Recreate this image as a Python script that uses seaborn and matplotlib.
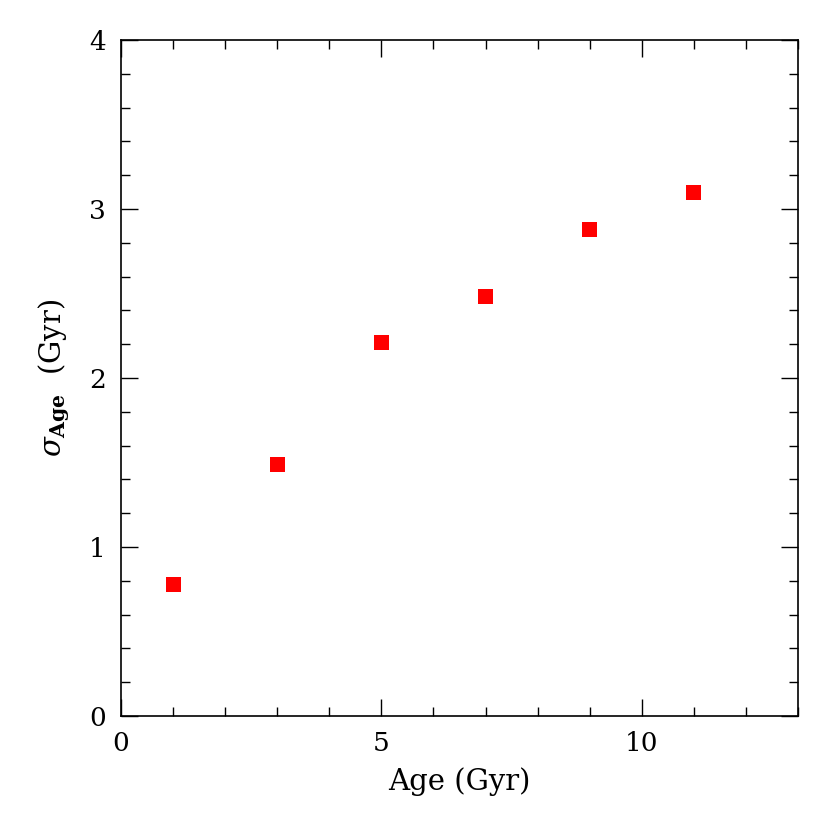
import numpy as np
import pandas as pd
import matplotlib
matplotlib.use("Agg")
import matplotlib.pyplot as plt
import seaborn as sns
from matplotlib.ticker import MultipleLocator

# Age bins and the scatter of ages within each bin
age_gyr = [1, 3, 5, 7, 9, 11]
sigma_age = [0.78, 1.49, 2.21, 2.48, 2.88, 3.10]

df = pd.DataFrame({"age": age_gyr, "sigma": sigma_age})

sns.set_style("ticks")
plt.rcParams['font.family'] = ['DejaVu Serif', 'DejaVu Sans']
plt.rcParams['mathtext.fontset'] = 'dejavuserif'
plt.rcParams['text.color'] = 'black'
plt.rcParams['axes.labelcolor'] = 'black'

fig = plt.figure(figsize=(8.3, 8.35), dpi=100)
ax = fig.add_axes([0.1458, 0.1425, 0.8156, 0.8095])

sns.scatterplot(data=df, x="age", y="sigma", marker="s", s=115,
                color="#ff0000", edgecolor="none", linewidth=0, ax=ax)

ax.set_xlim(0, 13)
ax.set_ylim(0, 4)
ax.xaxis.set_major_locator(MultipleLocator(5))
ax.xaxis.set_minor_locator(MultipleLocator(1))
ax.yaxis.set_major_locator(MultipleLocator(1))
ax.yaxis.set_minor_locator(MultipleLocator(0.2))

ax.tick_params(which="both", direction="in", top=True, right=True,
               width=1.0, colors="black", labelsize=19, pad=11)
ax.tick_params(which="major", length=12)
ax.tick_params(which="minor", length=6.5)
for sp in ax.spines.values():
    sp.set_linewidth(1.2)
    sp.set_color("black")

ax.set_xlabel("Age (Gyr)", fontsize=21, labelpad=8)
ax.set_ylabel(r"$\sigma_{\mathbf{Age}}$  (Gyr)", fontsize=21, labelpad=12)

fig.savefig("out.png", dpi=100, facecolor="white")
